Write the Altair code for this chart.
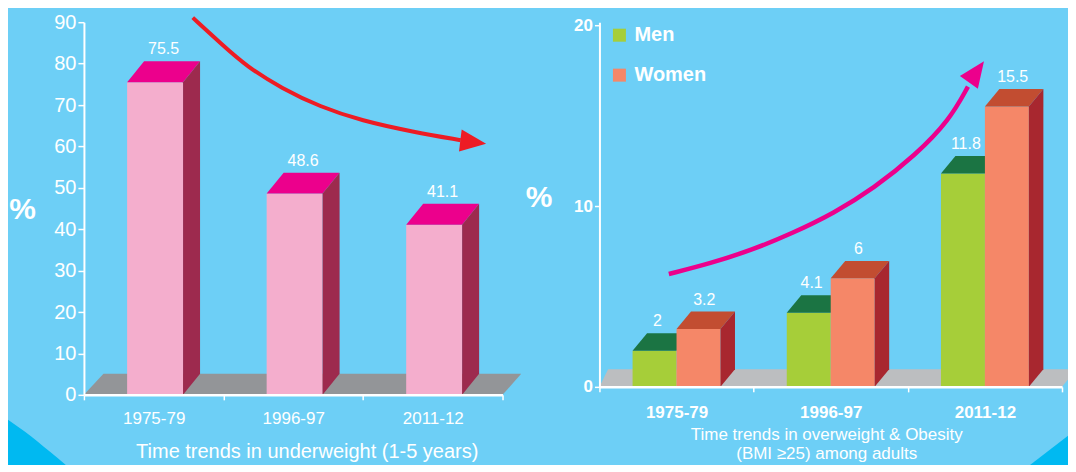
import altair as alt
import pandas as pd

# ---------------- data ----------------
periods = ["1975-79", "1996-97", "2011-12"]
underweight = [75.5, 48.6, 41.1]
men = [2.0, 4.1, 11.8]
women = [3.2, 6.0, 15.5]
series = ["Men", "Women"]

# decorative trend arrows (data units of each panel)
uw_arrow_x = [0.78, 0.98, 1.17, 1.42, 1.69, 1.99, 2.36, 2.70]
uw_arrow_y = [91.1, 84.9, 79.2, 74.0, 69.6, 66.2, 63.5, 61.5]
ow_arrow_x = [0.45, 0.72, 0.99, 1.25, 1.52, 1.78, 2.05, 2.27, 2.39]
ow_arrow_y = [6.24, 6.83, 7.57, 8.49, 9.60, 10.98, 12.82, 14.75, 16.6]

# decorative darker-blue corners (left panel / right panel data units)
corner_l_x = [-0.544, -0.422, -0.243, -0.072]
corner_l_y = [-6.0, -8.9, -13.75, -18.6]
corner_r_x = [2.735, 3.10]
corner_r_y = [-4.70, -2.30]

# ---------------- style ----------------
BG = "#6DCFF6"
CORNER = "#00B9F1"
WHITE = "#FFFFFF"
PINK_FRONT = "#F4AECD"
PINK_TOP = "#EC008C"
PINK_SIDE = "#9D2A4E"
FLOOR1 = "#939598"
FLOOR2 = "#BCBEC0"
GREEN = "#A6CE39"
GREEN_TOP = "#1B7443"
SALMON = "#F58768"
SALMON_TOP = "#C24D31"
SALMON_SIDE = "#A8272F"
RED = "#ED1C24"
MAGENTA = "#EC008C"
SANS = "Liberation Sans, Arial, sans-serif"
ARROW_PATH = "M-1,-0.85L1,0L-1,0.85Z"

W1, H1 = 419, 373
W2, H2 = 463, 365
Y1MAX = 90
Y2MAX = 20 * H2 / 362

dx1 = 17 / W1 * 3
dy1 = 21 / H1 * Y1MAX
half1 = 28 / W1 * 3
dx2 = 14.5 / W2 * 3
dy2 = 17.5 / H2 * Y2MAX
bw2 = 44 / W2 * 3


def XQ(field):
    return alt.X(f"{field}:Q", scale=alt.Scale(domain=[0, 3], nice=False, zero=False),
                 axis=None, stack=None)


# ---------------- left panel ----------------
yaxis1 = alt.Axis(values=list(range(0, 91, 10)), title="%", titleAngle=0, titleFontSize=30,
                  titleFontWeight="bold", titleFont=SANS, titleColor=WHITE, titleX=-62, titleY=187,
                  titleAlign="center", titleBaseline="middle", labelFont=SANS, labelFontSize=20,
                  labelColor=WHITE, labelPadding=2, tickColor=WHITE, tickSize=6, tickWidth=1.5,
                  domainColor=WHITE, domainWidth=2, grid=False, zindex=1)


def Y1(field):
    return alt.Y(f"{field}:Q", scale=alt.Scale(domain=[0, Y1MAX], nice=False), axis=yaxis1, stack=None)


xaxis1 = alt.Axis(tickBand="extent", labelAngle=0, labelFont=SANS, labelFontSize=17,
                  labelColor=WHITE, labelPadding=11, tickColor=WHITE, tickSize=5,
                  tickWidth=1.5, domainColor=WHITE, domainWidth=2.5,
                  title="Time trends in underweight (1-5 years)", titleFont=SANS, titleFontSize=20,
                  titleFontWeight="normal", titleColor=WHITE, titleX=223, titleY=57,
                  titleBaseline="middle", titleAlign="center", zindex=1)

axis_df1 = pd.DataFrame({"period": periods, "y": [0.0] * 3})
axis_layer1 = alt.Chart(axis_df1).mark_text(text=" ", opacity=0).encode(
    x=alt.X("period:N", sort=periods,
            scale=alt.Scale(type="band", domain=periods, paddingInner=0, paddingOuter=0),
            axis=xaxis1),
    y=Y1("y"))

c1 = [i + 0.51 for i in range(3)]
front1_df = pd.DataFrame({"x": [c - half1 for c in c1], "x2": [c + half1 for c in c1],
                          "y": [0.0] * 3, "y2": underweight})
top1_rows, side1_rows = [], []
for i, (c, v) in enumerate(zip(c1, underweight)):
    top1_rows += [{"id": i, "y": v, "x": c - half1, "x2": c + half1},
                  {"id": i, "y": v + dy1, "x": c - half1 + dx1, "x2": c + half1 + dx1}]
    side1_rows += [{"id": i, "x": c + half1, "y": 0.0, "y2": v},
                   {"id": i, "x": c + half1 + dx1, "y": dy1, "y2": v + dy1}]
floor1_df = pd.DataFrame([{"y": 0.0, "x": 0.0, "x2": 3.0},
                          {"y": dy1, "x": dx1 * 1.15, "x2": 3.0 + dx1 * 1.1}])
lab1_df = pd.DataFrame({"x": [c + dx1 / 2 for c in c1], "y": [v + dy1 for v in underweight],
                        "t": [f"{v:g}" for v in underweight]})
arr1_df = pd.DataFrame({"i": range(len(uw_arrow_x)), "x": uw_arrow_x, "y": uw_arrow_y})
head1_df = pd.DataFrame({"x": [2.79], "y": [61.05]})
cornl_df = pd.DataFrame({"x": corner_l_x, "y": corner_l_y, "y2": [corner_l_y[-1]] * len(corner_l_x)})

cornl = alt.Chart(cornl_df).mark_area(color=CORNER, interpolate="monotone").encode(
    x=XQ("x"), y=Y1("y"), y2="y2:Q")
floor1 = alt.Chart(floor1_df).mark_area(orient="horizontal", color=FLOOR1).encode(
    y=Y1("y"), x=XQ("x"), x2="x2:Q")
front1 = alt.Chart(front1_df).mark_rect(color=PINK_FRONT).encode(
    x=XQ("x"), x2="x2:Q", y=Y1("y"), y2="y2:Q")
top1 = alt.Chart(pd.DataFrame(top1_rows)).mark_area(orient="horizontal", color=PINK_TOP).encode(
    y=Y1("y"), x=XQ("x"), x2="x2:Q", detail="id:N")
side1 = alt.Chart(pd.DataFrame(side1_rows)).mark_area(color=PINK_SIDE).encode(
    x=XQ("x"), y=Y1("y"), y2="y2:Q", detail="id:N")
labels1 = alt.Chart(lab1_df).mark_text(font=SANS, fontSize=16, color=WHITE,
                                       baseline="alphabetic", dy=-7).encode(
    x=XQ("x"), y=Y1("y"), text="t:N")
arrow1 = alt.Chart(arr1_df).mark_line(color=RED, strokeWidth=4, interpolate="basis").encode(
    x=XQ("x"), y=Y1("y"), order="i:Q")
head1 = alt.Chart(head1_df).mark_point(shape=ARROW_PATH, filled=True, size=676, angle=7,
                                       color=RED, opacity=1, strokeWidth=0).encode(
    x=XQ("x"), y=Y1("y"))

left = alt.layer(
    axis_layer1,
    alt.layer(cornl, floor1, front1, top1, side1, labels1, arrow1, head1),
).resolve_scale(x="independent").properties(width=W1, height=H1)

# ---------------- right panel ----------------
yaxis2 = alt.Axis(values=[0, 10, 20], title="%", titleAngle=0, titleFontSize=30,
                  titleFontWeight="bold", titleFont=SANS, titleColor=WHITE, titleX=-61, titleY=175,
                  titleAlign="center", titleBaseline="middle", labelFont=SANS, labelFontSize=17,
                  labelFontWeight="bold", labelColor=WHITE, labelPadding=2, tickColor=WHITE,
                  tickSize=5, tickWidth=1.5, domainColor=WHITE, domainWidth=2, grid=False, zindex=1)


def Y2(field):
    return alt.Y(f"{field}:Q", scale=alt.Scale(domain=[0, Y2MAX], nice=False), axis=yaxis2, stack=None)


xaxis2 = alt.Axis(tickBand="extent", labelAngle=0, labelFont=SANS, labelFontSize=17,
                  labelFontWeight="bold", labelColor=WHITE, labelPadding=13, tickColor=WHITE,
                  tickSize=5, tickWidth=1.5, domainColor=WHITE, domainWidth=2.5,
                  title=["Time trends in overweight & Obesity", "(BMI ≥25) among adults"],
                  titleFont=SANS, titleFontSize=17, titleFontWeight="normal", titleColor=WHITE,
                  titleX=227, titleY=40, titleBaseline="top", titleAlign="center",
                  titleLineHeight=19, zindex=1)

axis_df2 = pd.DataFrame({"period": periods, "y": [0.0] * 3})
axis_layer2 = alt.Chart(axis_df2).mark_text(text=" ", opacity=0).encode(
    x=alt.X("period:N", sort=periods,
            scale=alt.Scale(type="band", domain=periods, paddingInner=0, paddingOuter=0),
            axis=xaxis2),
    y=Y2("y"))

c2 = [i + 0.5 for i in range(3)]
color_scale = alt.Scale(domain=series, range=[GREEN, SALMON])
legend = alt.Legend(orient="none", legendX=526, legendY=3, title=None, symbolType="square",
                    symbolSize=169, symbolStrokeWidth=0, labelFont=SANS, labelFontWeight="bold",
                    labelFontSize=20, labelColor=WHITE, labelOffset=5, rowPadding=20, padding=0,
                    symbolOpacity=1)

men_front_df = pd.DataFrame({"series": "Men", "x": [c - bw2 for c in c2], "x2": c2,
                             "y": [0.0] * 3, "y2": men})
women_front_df = pd.DataFrame({"series": "Women", "x": c2, "x2": [c + bw2 for c in c2],
                               "y": [0.0] * 3, "y2": women})
men_top, women_top, women_side = [], [], []
for i, c in enumerate(c2):
    m, w = men[i], women[i]
    men_top += [{"id": i, "y": m, "x": c - bw2, "x2": c},
                {"id": i, "y": m + dy2, "x": c - bw2 + dx2, "x2": c + dx2}]
    women_top += [{"id": i, "y": w, "x": c, "x2": c + bw2},
                  {"id": i, "y": w + dy2, "x": c + dx2, "x2": c + bw2 + dx2}]
    women_side += [{"id": i, "x": c + bw2, "y": 0.0, "y2": w},
                   {"id": i, "x": c + bw2 + dx2, "y": dy2, "y2": w + dy2}]
floor2_df = pd.DataFrame([{"y": 0.0, "x": 0.0, "x2": 3.0},
                          {"y": dy2, "x": dx2 * 0.6, "x2": 3.0 + dx2}])
lab2_df = pd.DataFrame({
    "x": [c - bw2 / 2 + dx2 * 0.2 for c in c2] + [c + bw2 / 2 + dx2 * 0.4 for c in c2],
    "y": [v + dy2 for v in men] + [v + dy2 for v in women],
    "t": [f"{v:g}" for v in men] + [f"{v:g}" for v in women]})
arr2_df = pd.DataFrame({"i": range(len(ow_arrow_x)), "x": ow_arrow_x, "y": ow_arrow_y})
head2_df = pd.DataFrame({"x": [2.445], "y": [17.42]})
cornr_df = pd.DataFrame({"x": corner_r_x, "y": corner_r_y, "y2": [corner_r_y[0]] * 2})

cornr = alt.Chart(cornr_df).mark_area(color=CORNER).encode(
    x=XQ("x"), y=Y2("y"), y2="y2:Q")
floor2 = alt.Chart(floor2_df).mark_area(orient="horizontal", color=FLOOR2).encode(
    y=Y2("y"), x=XQ("x"), x2="x2:Q")
men_front = alt.Chart(men_front_df).mark_rect().encode(
    x=XQ("x"), x2="x2:Q", y=Y2("y"), y2="y2:Q",
    color=alt.Color("series:N", scale=color_scale, legend=legend))
men_topl = alt.Chart(pd.DataFrame(men_top)).mark_area(orient="horizontal", color=GREEN_TOP).encode(
    y=Y2("y"), x=XQ("x"), x2="x2:Q", detail="id:N")
women_front = alt.Chart(women_front_df).mark_rect().encode(
    x=XQ("x"), x2="x2:Q", y=Y2("y"), y2="y2:Q",
    color=alt.Color("series:N", scale=color_scale, legend=legend))
women_topl = alt.Chart(pd.DataFrame(women_top)).mark_area(orient="horizontal", color=SALMON_TOP).encode(
    y=Y2("y"), x=XQ("x"), x2="x2:Q", detail="id:N")
women_sidel = alt.Chart(pd.DataFrame(women_side)).mark_area(color=SALMON_SIDE).encode(
    x=XQ("x"), y=Y2("y"), y2="y2:Q", detail="id:N")
labels2 = alt.Chart(lab2_df).mark_text(font=SANS, fontSize=16, color=WHITE,
                                       baseline="alphabetic", dy=-7).encode(
    x=XQ("x"), y=Y2("y"), text="t:N")
arrow2 = alt.Chart(arr2_df).mark_line(color=MAGENTA, strokeWidth=4.5, interpolate="basis").encode(
    x=XQ("x"), y=Y2("y"), order="i:Q")
head2 = alt.Chart(head2_df).mark_point(shape=ARROW_PATH, filled=True, size=676, angle=305.5,
                                       color=MAGENTA, opacity=1, strokeWidth=0).encode(
    x=XQ("x"), y=Y2("y"))

right = alt.layer(
    axis_layer2,
    alt.layer(cornr, floor2, men_front, men_topl, women_front, women_topl, women_sidel,
              labels2, arrow2, head2),
).resolve_scale(x="independent").properties(width=W2, height=H2)

chart = alt.hconcat(left, right, spacing=3).properties(
    background=BG, padding={"left": 0, "top": 1, "right": -10, "bottom": -8}
).configure_view(stroke=None)

chart.save("out.html", embed_options={"renderer": "svg", "actions": False})
